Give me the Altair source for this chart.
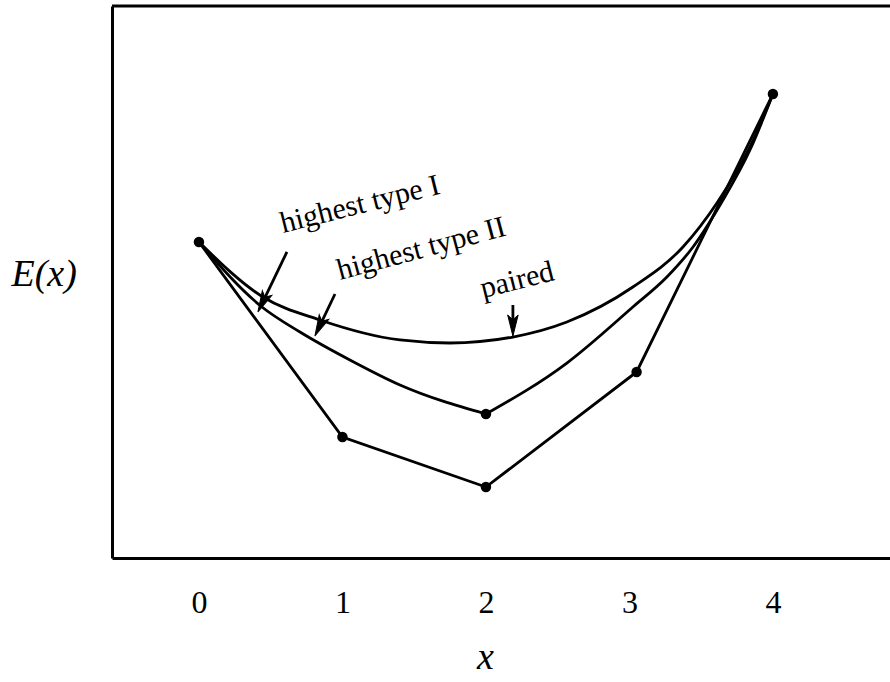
import math
import altair as alt
import pandas as pd

# ---- plot geometry -------------------------------------------------------
W, H = 778, 552
X_DOMAIN = [-0.606, 4.816]
Y_DOMAIN = [0.0, 10.036]
PX_X = W / (X_DOMAIN[1] - X_DOMAIN[0])
PX_Y = H / (Y_DOMAIN[1] - Y_DOMAIN[0])
SERIF = "Liberation Serif"

# ---- data ----------------------------------------------------------------
x_ticks = [0, 1, 2, 3, 4]

# lowest piecewise-linear energy path
lower_x = [0, 1, 2, 3.05, 4]
lower_E = [5.745, 2.200, 1.291, 3.382, 8.436]

# "paired" curve
paired_x = [0.0, 0.446, 0.843, 1.401, 1.749, 2.188, 2.564, 3.024, 3.373, 3.610, 3.840, 4.0]
paired_E = [5.745, 4.745, 4.327, 3.964, 3.909, 4.018, 4.291, 4.927, 5.655, 6.455, 7.473, 8.436]

# middle curve, in two pieces meeting at x = 2
mid_a_x = [0.0, 0.439, 0.704, 1.052, 1.401, 2.0]
mid_a_E = [5.745, 4.564, 4.109, 3.600, 3.145, 2.618]
mid_b_x = [2.0, 2.564, 3.024, 3.261, 3.443, 3.652, 3.840, 4.0]
mid_b_E = [2.618, 3.545, 4.564, 5.109, 5.655, 6.509, 7.418, 8.436]

# marked points
dot_x = [0, 1, 2, 3.05, 4, 2]
dot_E = [5.745, 2.200, 1.291, 3.382, 8.436, 2.618]

# annotation labels and their arrows
label_text = ["highest type I", "highest type II", "paired"]
label_x = [0.585, 0.983, 1.979]
label_E = [5.909, 5.055, 4.727]
label_angle = [346, 345, 346]

arrow_tail_x = [0.613, 0.948, 2.188]
arrow_tail_E = [5.564, 4.800, 4.600]
arrow_tip_x = [0.411, 0.808, 2.188]
arrow_tip_E = [4.473, 4.036, 4.036]

# ---- tables --------------------------------------------------------------
curves = pd.concat([
    pd.DataFrame({"x": paired_x, "E": paired_E, "series": "paired"}),
    pd.DataFrame({"x": mid_a_x, "E": mid_a_E, "series": "mid_a"}),
    pd.DataFrame({"x": mid_b_x, "E": mid_b_E, "series": "mid_b"}),
], ignore_index=True)
lower = pd.DataFrame({"x": lower_x, "E": lower_E})
dots = pd.DataFrame({"x": dot_x, "E": dot_E})
labels = pd.DataFrame({"text": label_text, "x": label_x, "E": label_E, "ang": label_angle})

HEAD_LEN = 21.0
shafts, heads = [], []
for tx, tE, hx, hE in zip(arrow_tail_x, arrow_tail_E, arrow_tip_x, arrow_tip_E):
    dx = (hx - tx) * PX_X
    dy = -(hE - tE) * PX_Y
    L = math.hypot(dx, dy)
    ux, uy = dx / L, dy / L
    cx = hx - (HEAD_LEN / 2) * ux / PX_X
    cE = hE + (HEAD_LEN / 2) * uy / PX_Y
    ang = math.degrees(math.atan2(-ux, uy)) % 360
    shafts.append({"x": tx, "E": tE, "x2": cx, "E2": cE})
    heads.append({"x": cx, "E": cE, "ang": ang})
shafts = pd.DataFrame(shafts)
heads = pd.DataFrame(heads)

# ---- encodings -----------------------------------------------------------
x_scale = alt.Scale(domain=X_DOMAIN, nice=False, zero=False)
y_scale = alt.Scale(domain=Y_DOMAIN, nice=False, zero=False)

x_axis = alt.Axis(
    values=x_ticks, format="d", ticks=False, tickSize=0, grid=False,
    domain=True, domainColor="black", domainWidth=3,
    labelFont=SERIF, labelFontSize=32, labelColor="black", labelPadding=29,
    title="x", titleFont=SERIF, titleFontSize=38, titleFontStyle="italic",
    titleFontWeight="normal", titleColor="black",
    titleX=373, titleY=110, titleAlign="center", titleBaseline="alphabetic",
)
y_axis = alt.Axis(
    ticks=False, tickSize=0, labels=False, grid=False,
    domain=True, domainColor="black", domainWidth=3,
    title="E(x)", titleFont=SERIF, titleFontSize=38, titleFontStyle="italic",
    titleFontWeight="normal", titleColor="black", titleAngle=0,
    titleX=-101, titleY=268, titleAlign="left", titleBaseline="middle",
)

X = alt.X("x:Q", scale=x_scale, axis=x_axis)
Y = alt.Y("E:Q", scale=y_scale, axis=y_axis)

curve_layer = alt.Chart(curves).mark_line(
    color="black", strokeWidth=2.8, interpolate="monotone"
).encode(x=X, y=Y, detail="series:N")

lower_layer = alt.Chart(lower).mark_line(
    color="black", strokeWidth=2.8
).encode(x=X, y=Y)

dot_layer = alt.Chart(dots).mark_circle(
    color="black", size=110, opacity=1
).encode(x=X, y=Y)

shaft_layer = alt.Chart(shafts).mark_rule(
    color="black", strokeWidth=2.8
).encode(x=X, y=Y, x2="x2:Q", y2="E2:Q")

head_layer = alt.Chart(heads).mark_point(
    shape="M0,1L-0.5,-1L0,-0.55L0.5,-1Z", size=HEAD_LEN ** 2,
    filled=True, fill="black", stroke="black", strokeWidth=1, opacity=1
).encode(x=X, y=Y, angle=alt.Angle("ang:Q", scale=None))

label_layer = alt.Chart(labels).mark_text(
    font=SERIF, fontSize=30, color="black", align="left", baseline="alphabetic"
).encode(x=X, y=Y, text="text:N", angle=alt.Angle("ang:Q", scale=None))

top_border = alt.Chart(pd.DataFrame({"k": [0]})).mark_rule(
    color="black", strokeWidth=3
).encode(x=alt.value(0), x2=alt.value(W), y=alt.value(0))

chart = alt.layer(
    top_border, curve_layer, lower_layer, shaft_layer, head_layer,
    dot_layer, label_layer
).properties(
    width=W, height=H,
    autosize=alt.AutoSizeParams(type="none"),
    padding={"left": 112, "top": 6, "right": 0, "bottom": 124},
    background="white",
).configure_view(stroke=None)

chart.save("out.html", embed_options={"renderer": "svg", "actions": False})
